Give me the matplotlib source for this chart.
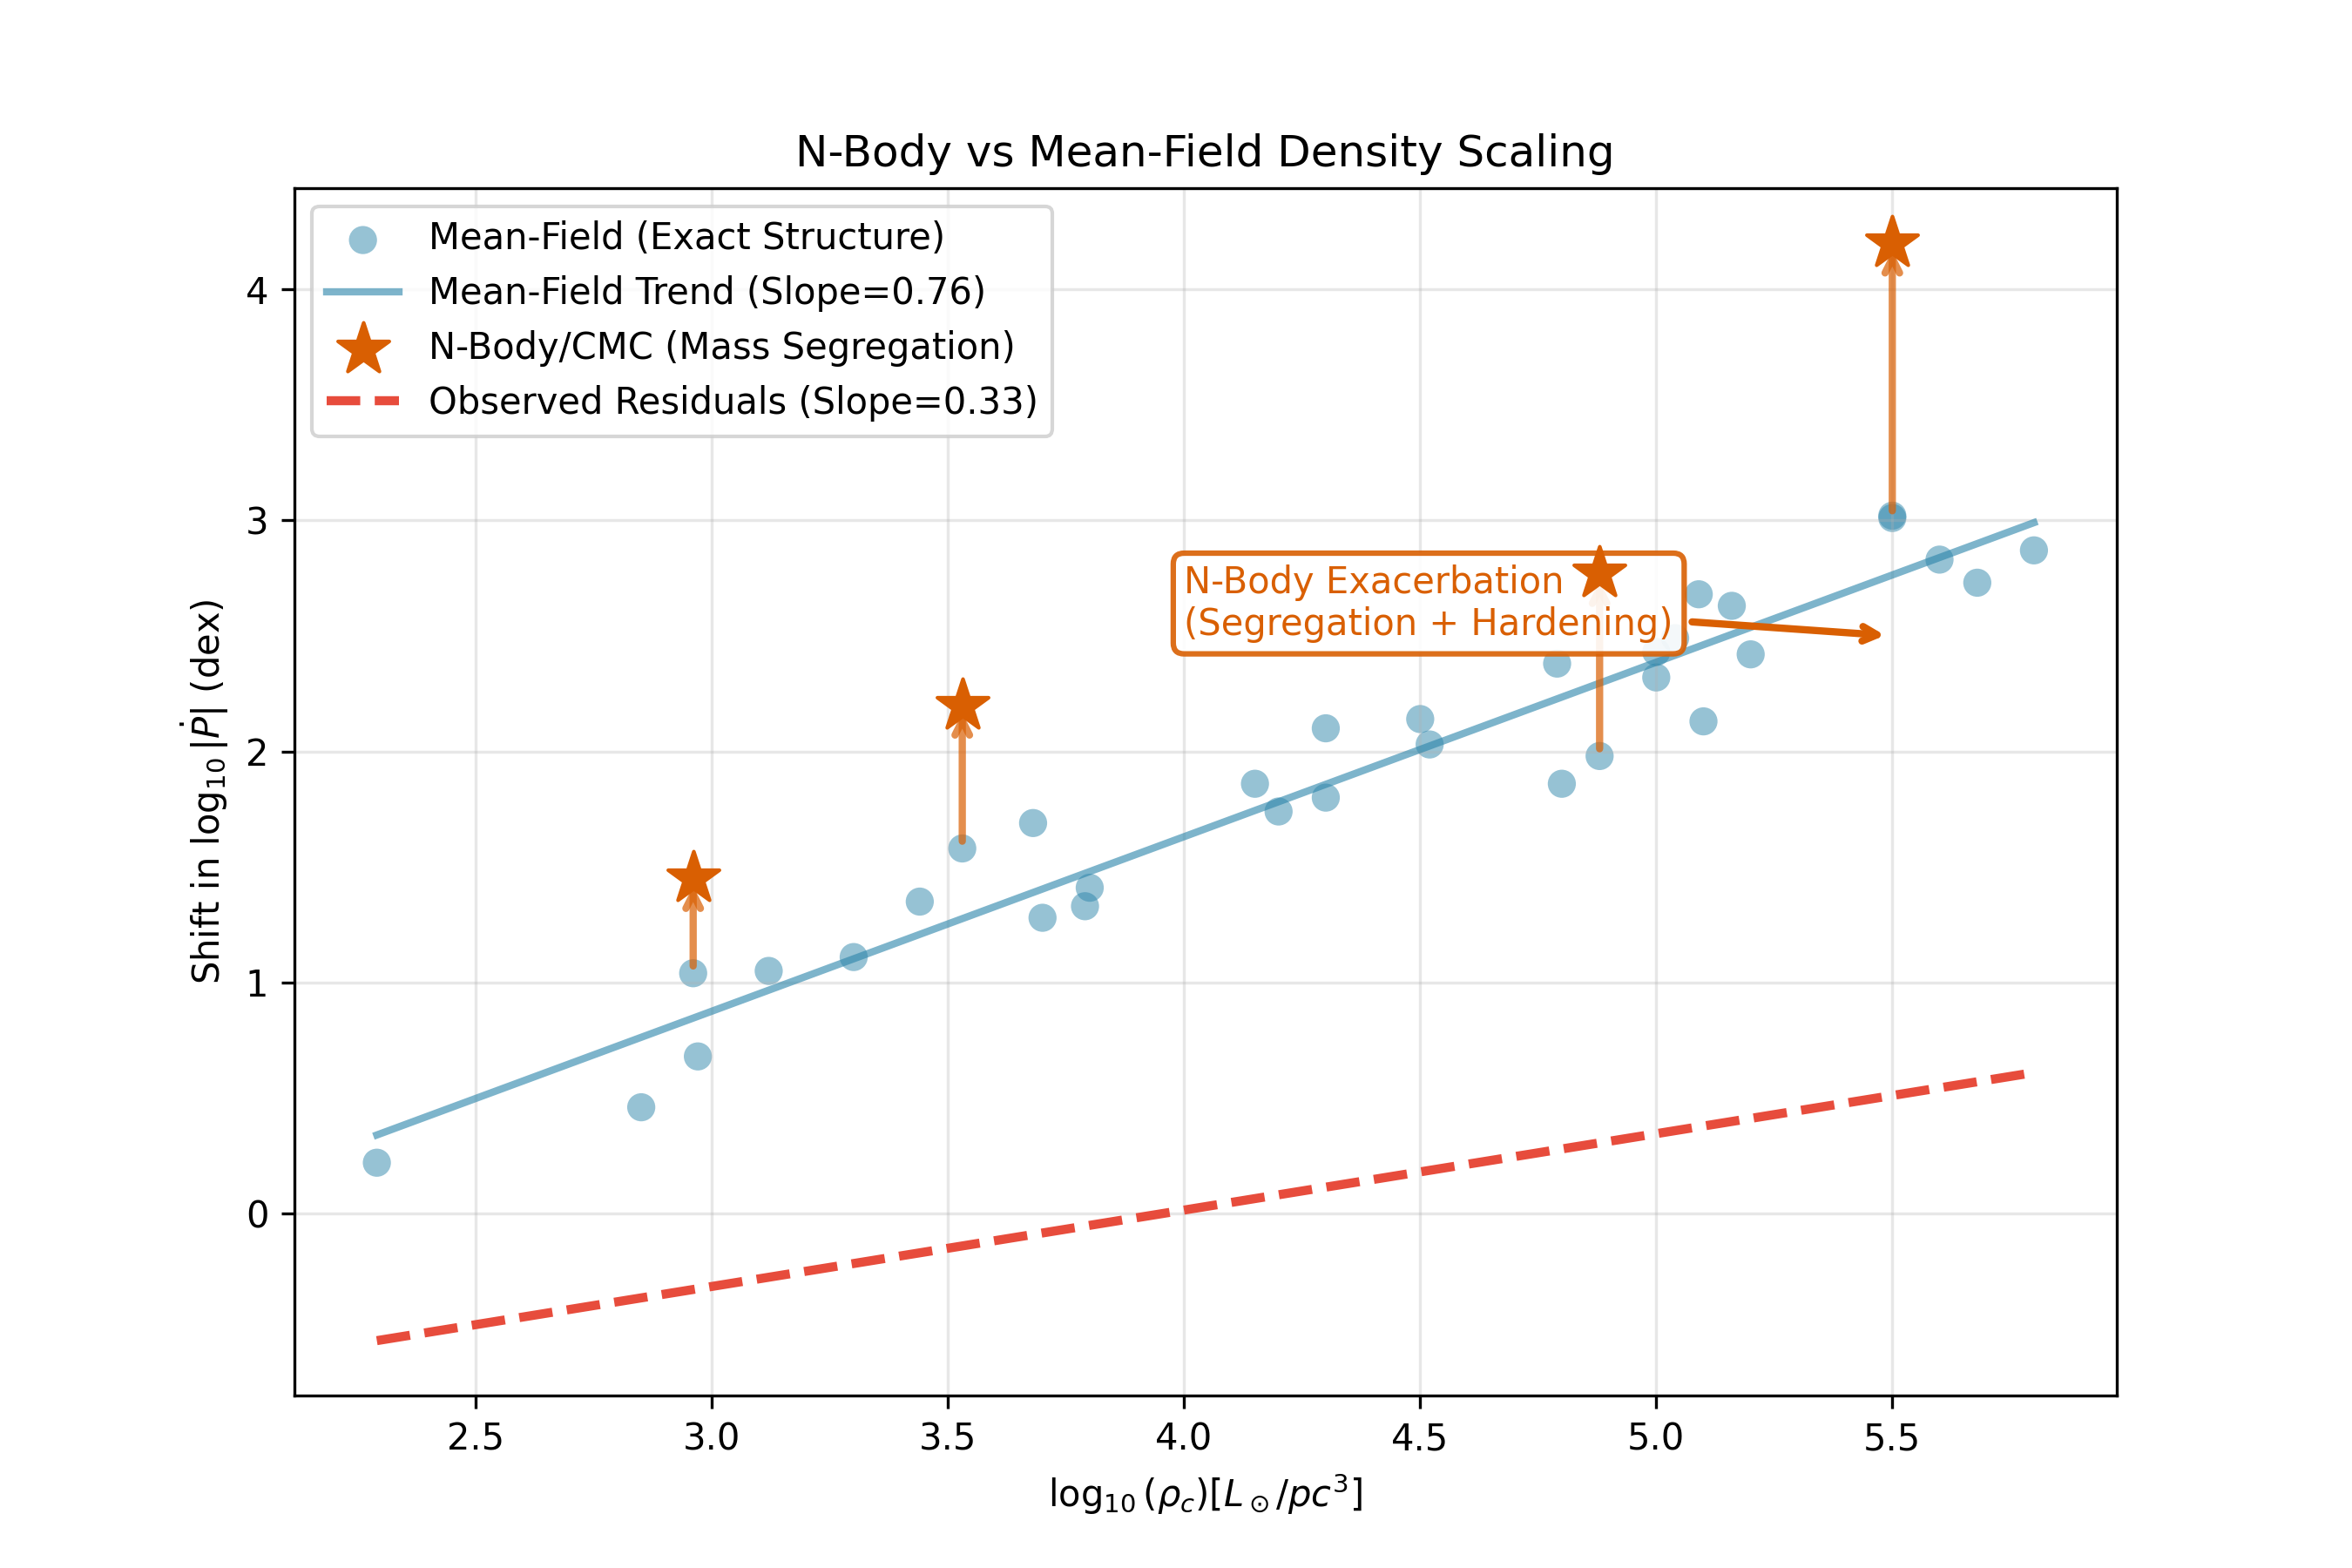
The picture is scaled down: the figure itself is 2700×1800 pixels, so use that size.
import matplotlib
matplotlib.use("Agg")
import matplotlib.pyplot as plt
import numpy as np

# mean-field points
mf_x = [2.29, 2.85, 2.96, 2.97, 3.12, 3.30, 3.44, 3.53, 3.68, 3.70, 3.79, 3.80,
        4.15, 4.20, 4.30, 4.30, 4.50, 4.52, 4.79, 4.80, 4.88, 5.00, 5.00, 5.04,
        5.09, 5.10, 5.16, 5.20, 5.50, 5.50, 5.60, 5.68, 5.80]
mf_y = [0.22, 0.46, 1.04, 0.68, 1.05, 1.11, 1.35, 1.58, 1.69, 1.28, 1.33, 1.41,
        1.86, 1.74, 2.10, 1.80, 2.14, 2.03, 2.38, 1.86, 1.98, 2.32, 2.43, 2.49,
        2.68, 2.13, 2.63, 2.42, 3.01, 3.02, 2.83, 2.73, 2.87]

# N-body stars and the mean-field points they come from
nb_x = [2.96, 3.53, 4.88, 5.50]
nb_base_y = [1.04, 1.58, 1.98, 3.01]
nb_y = [1.45, 2.20, 2.77, 4.20]

# trend lines (endpoints)
trend_x = [2.29, 5.80]
trend_y = [0.34, 2.99]
resid_x = [2.29, 5.80]
resid_y = [-0.55, 0.61]

blue = '#2E86AB'
orange = '#D95F02'
red = '#E74C3C'

fig, ax = plt.subplots(figsize=(9, 6), dpi=300)

ax.scatter(mf_x, mf_y, s=60, color=blue, alpha=0.5, edgecolors='none',
           label='Mean-Field (Exact Structure)')
ax.plot(trend_x, trend_y, color=blue, alpha=0.62, lw=2,
        label='Mean-Field Trend (Slope=0.76)')

for x, y0, y1 in zip(nb_x, nb_base_y, nb_y):
    ax.annotate('', xy=(x, y1), xytext=(x, y0), zorder=2,
                arrowprops=dict(arrowstyle='->', color=orange, lw=2, alpha=0.7))

ax.scatter(nb_x, nb_y, s=220, marker='*', color=orange, zorder=5,
           label='N-Body/CMC (Mass Segregation)')
ax.plot(resid_x, resid_y, color=red, ls='--', lw=2.5,
        label='Observed Residuals (Slope=0.33)')

ax.annotate('N-Body Exacerbation\n(Segregation + Hardening)',
            xy=(5.5, 2.5), xytext=(4.0, 2.64), ha='left', va='center',
            fontsize=10, color=orange, zorder=4,
            bbox=dict(boxstyle='round,pad=0.3', fc='white', ec=orange, alpha=0.9, lw=1.5),
            arrowprops=dict(arrowstyle='->', color=orange, lw=2))

ax.set_title('N-Body vs Mean-Field Density Scaling')
ax.set_xlabel(r'$\log_{10}(\rho_c) [L_\odot / pc^3]$')
ax.set_ylabel(r'Shift in $\log_{10}|\dot{P}|$ (dex)')
ax.grid(True, alpha=0.3)
ax.legend(loc='upper left')

fig.savefig('out.png', dpi=300)
